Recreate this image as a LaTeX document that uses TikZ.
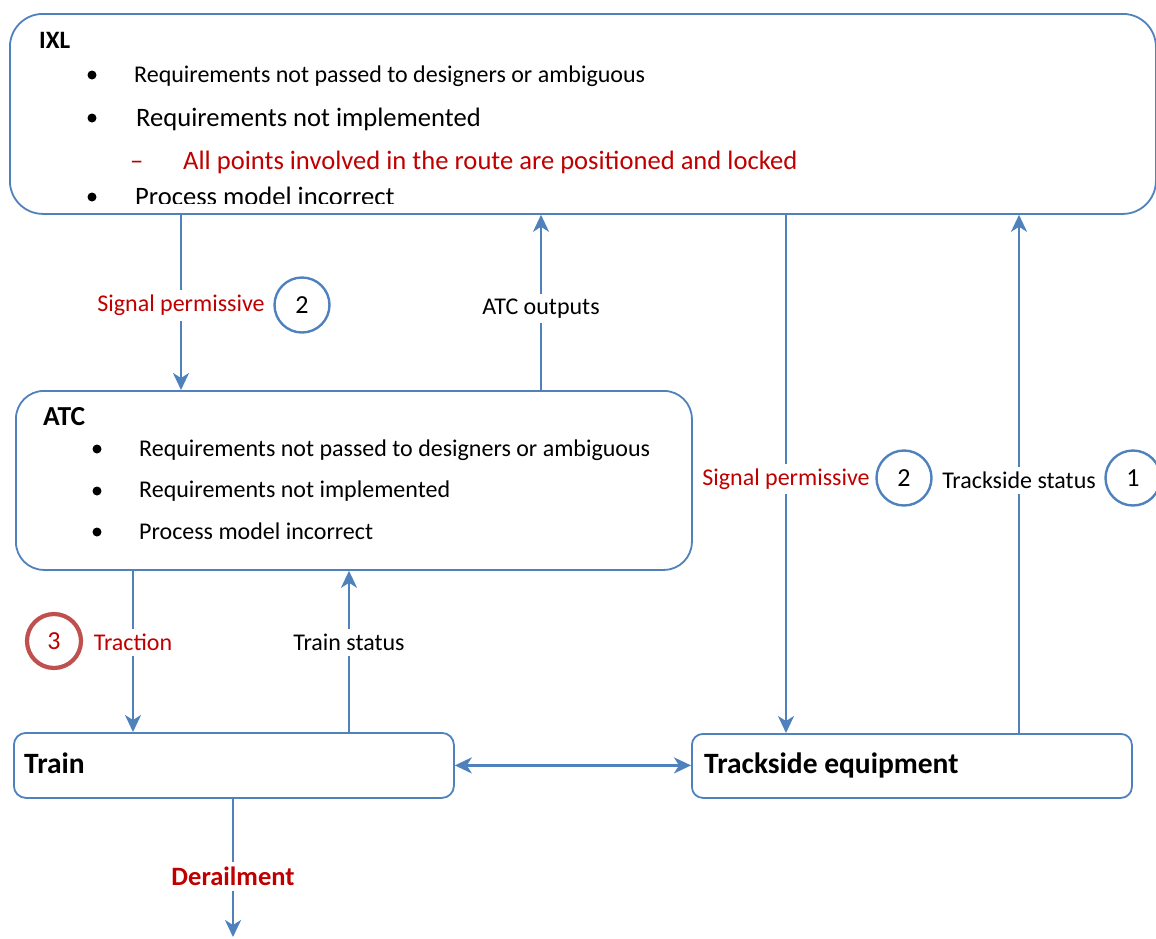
\documentclass[tikz,border=0pt]{standalone}
\usepackage{fontspec}
\setmainfont{Carlito}
\usetikzlibrary{arrows.meta}
\definecolor{lineblue}{RGB}{79,129,189}
\definecolor{darkred}{RGB}{192,0,0}
\definecolor{ringred}{RGB}{192,80,77}

\newcommand{\fsz}[1]{\fontsize{#1}{#1}\selectfont}

\begin{document}
\begin{tikzpicture}[x=1pt,y=-1pt,
  box/.style={draw=lineblue,line width=1.8pt,fill=white,inner sep=0pt,
    anchor=north west,rounded corners=#1},
  arr/.style={draw=lineblue,line width=2.4pt,
    -{Stealth[length=17pt,width=16pt,inset=5pt]}},
  dblarr/.style={draw=lineblue,line width=2.4pt,
    {Stealth[length=17pt,width=16pt,inset=5pt]}-{Stealth[length=17pt,width=16pt,inset=5pt]}},
  lbl/.style={fill=white,inner xsep=2pt,inner ysep=5pt,font=\fsz{24}},
  ring/.style={circle,draw=lineblue,line width=2.4pt,fill=white,
    minimum size=55pt,inner sep=0pt,font=\fsz{26}},
  redring/.style={circle,draw=ringred,line width=4.2pt,fill=white,
    minimum size=54pt,inner sep=0pt,font=\fsz{26},text=darkred},
  item/.style={anchor=base west,inner sep=0pt},
  head/.style={anchor=base west,inner sep=0pt,font=\bfseries\fsz{25}},
  dot/.style={fill=black}
]
\useasboundingbox (0,0) rectangle (1156,938);

% blocks
\node[box=33pt,minimum width=1146pt,minimum height=200pt] (ixl) at (9,13) {};
\node[box=28pt,minimum width=676pt,minimum height=179pt] (atc) at (15,390) {};
\node[box=12pt,minimum width=440pt,minimum height=65pt] (train) at (13,732) {};
\node[box=11pt,minimum width=440pt,minimum height=64pt] (track) at (691,733) {};

% IXL contents
\node[head] (ixlh) at (39,48) {IXL};
\begin{scope}
  \clip (9,13) rectangle (1156,203);
  \fill[dot] (92,75) circle (4.5);
  \node[item,font=\fsz{24}] (i1) at (134,82) {Requirements not passed to designers or ambiguous};
  \fill[dot] (92,118) circle (4.5);
  \node[item,font=\fsz{26.6}] (i2) at (136,126) {Requirements not implemented};
  \node[item,font=\fsz{26.6},text=darkred] (i3d) at (130,169) {–};
  \node[item,font=\fsz{26.6},text=darkred] (i3) at (183,169) {All points involved in the route are positioned and locked};
  \fill[dot] (92,197) circle (4.5);
  \node[item,font=\fsz{26.6}] (i4) at (135,205) {Process model incorrect};
\end{scope}

% ATC contents
\node[head,font=\bfseries\fsz{27.5}] (atch) at (43,425) {ATC};
\fill[dot] (97,449) circle (4.5);
\node[item,font=\fsz{24}] (a1) at (139,456) {Requirements not passed to designers or ambiguous};
\fill[dot] (97,491) circle (4.5);
\node[item,font=\fsz{24}] (a2) at (139,497) {Requirements not implemented};
\fill[dot] (97,532) circle (4.5);
\node[item,font=\fsz{24}] (a3) at (139,539) {Process model incorrect};

% Train / trackside labels
\node[anchor=base west,inner sep=0pt,font=\bfseries\fsz{29.5}] (trainl) at (24,773) {Train};
\node[anchor=base west,inner sep=0pt,font=\bfseries\fsz{29.5}] (trackl) at (704,773) {Trackside equipment};

% connector columns
\coordinate (xa) at (181,0);
\coordinate (xb) at (541,0);
\coordinate (xc) at (786,0);
\coordinate (xd) at (1019,0);
\coordinate (xe) at (133,0);
\coordinate (xf) at (349,0);
\coordinate (xg) at (233,0);
\coordinate (derail) at (233,937);

\draw[arr] (ixl.south -| xa) -- node[lbl,pos=0.517,text=darkred] (sp1) {Signal permissive} (atc.north -| xa);
\draw[arr] (atc.north -| xb) -- node[lbl,pos=0.466] (atco) {ATC outputs} (ixl.south -| xb);
\draw[arr] (ixl.south -| xc) -- node[lbl,pos=0.51,text=darkred] (sp2) {Signal permissive} (track.north -| xc);
\draw[arr] (track.north -| xd) -- node[lbl,pos=0.488] (tss) {Trackside status} (ixl.south -| xd);
\draw[arr] (atc.south -| xe) -- node[lbl,pos=0.444,text=darkred] (trac) {Traction} (train.north -| xe);
\draw[arr] (train.north -| xf) -- node[lbl,pos=0.556] (trs) {Train status} (atc.south -| xf);
\draw[dblarr] (train.east) -- (train.east -| track.west);
\draw[arr] (train.south -| xg) -- node[lbl,pos=0.564,text=darkred,font=\bfseries\fsz{26.5}] (der) {Derailment} (derail);

% numbered markers
\node[ring] (n2a) at (302,305) {2};
\node[ring] (n2b) at (904,478) {2};
\node[ring] (n1) at (1133,478) {1};
\node[redring] (n3) at (54,641) {3};
\end{tikzpicture}
\end{document}
